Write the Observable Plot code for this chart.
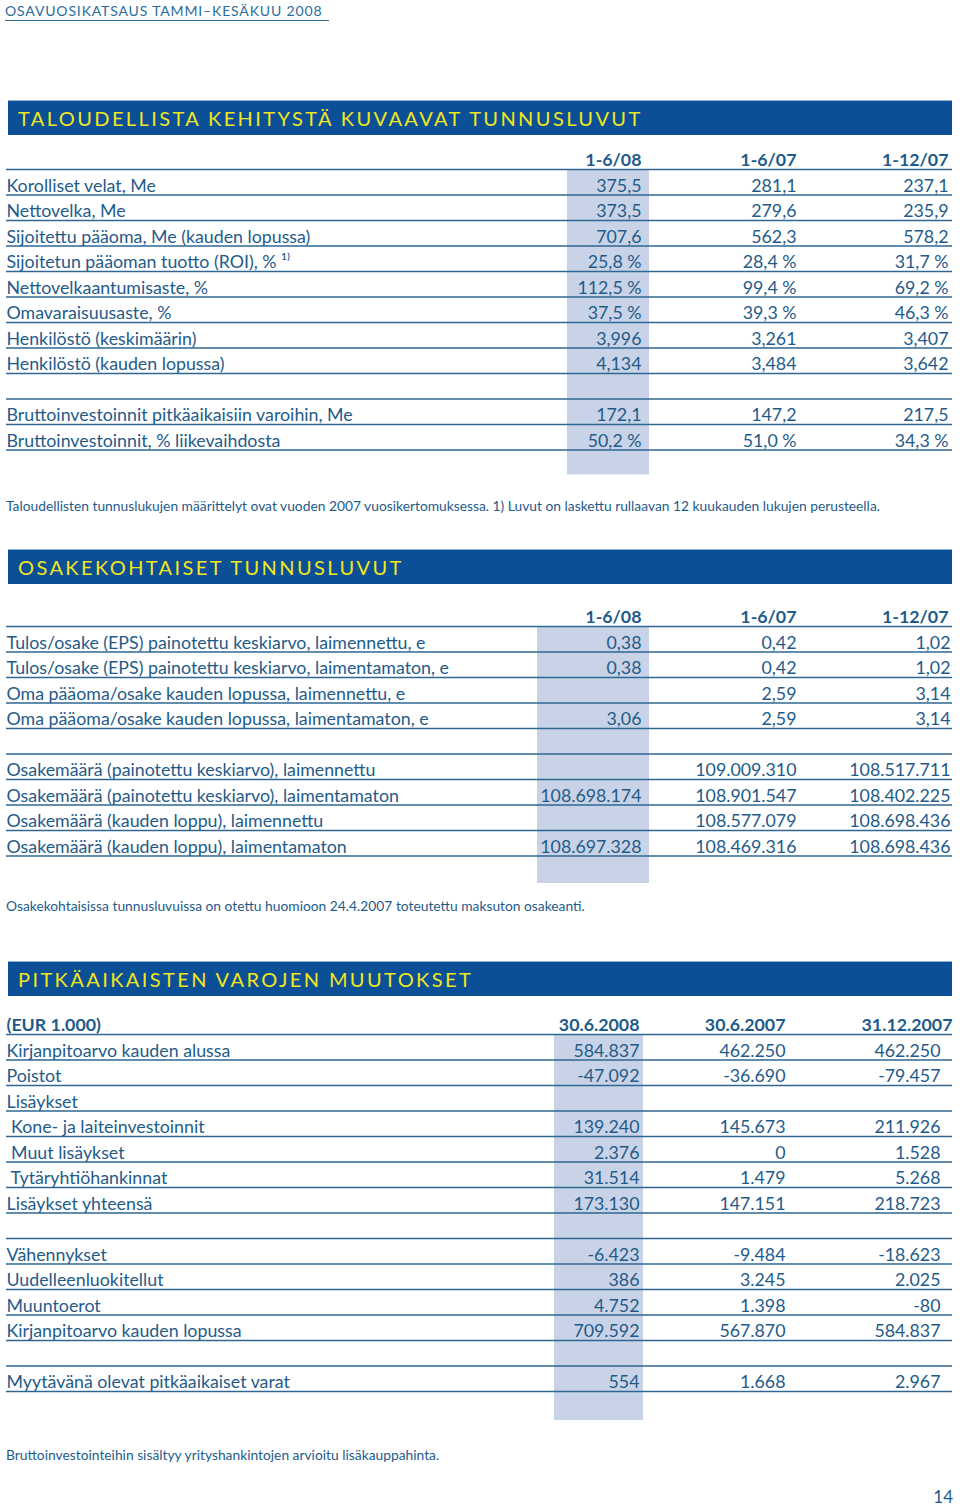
<!DOCTYPE html>
<html>
<head>
<meta charset="utf-8">
<script src="https://cdn.jsdelivr.net/npm/d3@7"></script>
<script src="https://cdn.jsdelivr.net/npm/@observablehq/plot@0.6"></script>
<style>
  body { margin: 0; background: #fff; }
  #page { position: relative; width: 960px; height: 1511px; overflow: hidden; font-family: Lato, "Open Sans", sans-serif; color: #1f5b8a; }
  .abs { position: absolute; }
  .top { left: 5px; top: 2px; font-size: 14px; letter-spacing: 0.85px; color: #2a6c9c; border-bottom: 1px solid #2a6c9c; padding-right: 7px; line-height: 18px; }
  .bar { position: absolute; left: 8px; width: 944px; height: 35px; background: #0b4f97; border-top: 1px solid #8fb3d8; box-sizing: border-box; }
  .bar span { position: absolute; left: 10px; top: 0; line-height: 34px; color: #f2e61c; font-size: 20px; letter-spacing: 2.4px; white-space: nowrap; }
  .note { left: 6px; font-size: 13.8px; color: #1f5b8a; white-space: nowrap; }
  .pg { right: 7px; font-size: 17px; color: #1f5b8a; }
  svg { position: absolute; left: 0; }
</style>
</head>
<body>
<div id="page">
  <div class="abs top">OSAVUOSIKATSAUS TAMMI–KESÄKUU 2008</div>
  <div class="bar" style="top:100px"><span>TALOUDELLISTA KEHITYSTÄ KUVAAVAT TUNNUSLUVUT</span></div>
  <div class="bar" style="top:549px"><span>OSAKEKOHTAISET TUNNUSLUVUT</span></div>
  <div class="bar" style="top:961px"><span>PITKÄAIKAISTEN VAROJEN MUUTOKSET</span></div>
  <div class="abs note" style="top:497px">Taloudellisten tunnuslukujen määrittelyt ovat vuoden 2007 vuosikertomuksessa. 1) Luvut on laskettu rullaavan 12 kuukauden lukujen perusteella.</div>
  <div class="abs note" style="top:897px">Osakekohtaisissa tunnusluvuissa on otettu huomioon 24.4.2007 toteutettu maksuton osakeanti.</div>
  <div class="abs note" style="top:1446px">Bruttoinvestointeihin sisältyy yrityshankintojen arvioitu lisäkauppahinta.</div>
  <div class="abs pg" style="top:1486px">14</div>
</div>
<script>
// ---------- DATA ----------
// Table 1: Taloudellista kehitystä kuvaavat tunnusluvut
const columns1 = ["1-6/08", "1-6/07", "1-12/07"];
const labels1 = [
  "Korolliset velat, Me",
  "Nettovelka, Me",
  "Sijoitettu pääoma, Me (kauden lopussa)",
  "Sijoitetun pääoman tuotto (ROI), % ¹⁾",
  "Nettovelkaantumisaste, %",
  "Omavaraisuusaste, %",
  "Henkilöstö (keskimäärin)",
  "Henkilöstö (kauden lopussa)",
  "",
  "Bruttoinvestoinnit pitkäaikaisiin varoihin, Me",
  "Bruttoinvestoinnit, % liikevaihdosta"
];
const t1_h108 = ["375,5", "373,5", "707,6", "25,8 %", "112,5 %", "37,5 %", "3,996", "4,134", "", "172,1", "50,2 %"];
const t1_h107 = ["281,1", "279,6", "562,3", "28,4 %", "99,4 %", "39,3 %", "3,261", "3,484", "", "147,2", "51,0 %"];
const t1_y07  = ["237,1", "235,9", "578,2", "31,7 %", "69,2 %", "46,3 %", "3,407", "3,642", "", "217,5", "34,3 %"];

// Table 2: Osakekohtaiset tunnusluvut
const columns2 = ["1-6/08", "1-6/07", "1-12/07"];
const labels2 = [
  "Tulos/osake (EPS) painotettu keskiarvo, laimennettu, e",
  "Tulos/osake (EPS) painotettu keskiarvo, laimentamaton, e",
  "Oma pääoma/osake kauden lopussa, laimennettu, e",
  "Oma pääoma/osake kauden lopussa, laimentamaton, e",
  "",
  "Osakemäärä (painotettu keskiarvo), laimennettu",
  "Osakemäärä (painotettu keskiarvo), laimentamaton",
  "Osakemäärä (kauden loppu), laimennettu",
  "Osakemäärä (kauden loppu), laimentamaton"
];
const t2_h108 = ["0,38", "0,38", "", "3,06", "", "", "108.698.174", "", "108.697.328"];
const t2_h107 = ["0,42", "0,42", "2,59", "2,59", "", "109.009.310", "108.901.547", "108.577.079", "108.469.316"];
const t2_y07  = ["1,02", "1,02", "3,14", "3,14", "", "108.517.711", "108.402.225", "108.698.436", "108.698.436"];

// Table 3: Pitkäaikaisten varojen muutokset
const unit3 = "(EUR 1.000)";
const columns3 = ["30.6.2008", "30.6.2007", "31.12.2007"];
const labels3 = [
  "Kirjanpitoarvo kauden alussa",
  "Poistot",
  "Lisäykset",
  "\u00a0Kone- ja laiteinvestoinnit",
  "\u00a0Muut lisäykset",
  "\u00a0Tytäryhtiöhankinnat",
  "Lisäykset yhteensä",
  "",
  "Vähennykset",
  "Uudelleenluokitellut",
  "Muuntoerot",
  "Kirjanpitoarvo kauden lopussa",
  "",
  "Myytävänä olevat pitkäaikaiset varat"
];
const t3_2008 = ["584.837", "-47.092", "", "139.240", "2.376", "31.514", "173.130", "", "-6.423", "386", "4.752", "709.592", "", "554"];
const t3_2007 = ["462.250", "-36.690", "", "145.673", "0", "1.479", "147.151", "", "-9.484", "3.245", "1.398", "567.870", "", "1.668"];
const t3_y07  = ["462.250", "-79.457", "", "211.926", "1.528", "5.268", "218.723", "", "-18.623", "2.025", "-80", "584.837", "", "2.967"];

// ---------- STYLE ----------
const TEXT = "#1f5b8a";
const LINE = "#2f6792";
const HILITE = "#c9d3e7";
const ROW_H = 25.5;
const TOP = 22;      // header-row centre inside each svg
const FONT = "Lato, 'Open Sans', sans-serif";
const FS = 17.8;

function makeTable(cfg) {
  const n = cfg.labels.length;
  const height = TOP + ROW_H * (n + 1) + 20;
  const cells = [];
  cfg.labels.forEach((lab, i) => {
    cfg.values.forEach((vals, j) => {
      if (vals[i]) cells.push({row: i + 1, col: j + 1, text: vals[i]});
    });
  });
  const labelRows = cfg.labels.map((lab, i) => ({row: i + 1, text: lab})).filter(d => d.text);
  const headerCells = cfg.columns.map((c, j) => ({col: j + 1, text: c}));
  const plot = Plot.plot({
    width: 960,
    height,
    marginLeft: 6,
    marginRight: 8,
    marginTop: 0,
    marginBottom: 0,
    style: {background: "transparent", fontFamily: FONT, fontSize: FS + "px", color: TEXT, overflow: "visible"},
    x: {type: "linear", domain: [0, 1, 2, 3], range: cfg.xRange, axis: null},
    y: {type: "linear", domain: [0, 1], range: [TOP, TOP + ROW_H], axis: null},
    marks: [
      Plot.rect([cfg.highlight], {
        x1: d => d.col, x2: d => d.col, y1: 0, y2: n + 1,
        insetLeft: -cfg.hiLeft, insetRight: -cfg.hiRight,
        insetTop: 10, insetBottom: -cfg.hiBottom,
        fill: HILITE
      }),
      Plot.ruleY(d3.range(0, n + 1), {y: d => d, dy: 9, stroke: LINE, strokeWidth: 1.5}),
      Plot.text(labelRows, {x: 0, y: "row", text: "text", textAnchor: "start", lineAnchor: "middle", fill: TEXT, fontSize: FS}),
      Plot.text(cells, {x: "col", y: "row", text: "text", textAnchor: "end", lineAnchor: "middle", fill: TEXT, fontSize: FS}),
      ...headerCells.map((h, j) => Plot.text([h], {
        x: "col", y: 0, text: "text", textAnchor: "end", lineAnchor: "middle",
        fill: TEXT, fontSize: FS, fontWeight: "bold", dx: cfg.headerDx[j]
      })),
      cfg.unit ? Plot.text([cfg.unit], {x: 0, y: 0, text: d => d, textAnchor: "start", lineAnchor: "middle", fill: TEXT, fontSize: FS, fontWeight: "bold"}) : null
    ]
  });
  plot.style.top = (cfg.headerY - TOP) + "px";
  document.getElementById("page").appendChild(plot);
}

makeTable({
  columns: columns1, labels: labels1, values: [t1_h108, t1_h107, t1_y07],
  xRange: [6, 641, 796, 948], headerDx: [0, 0, 0],
  highlight: {col: 1}, hiLeft: 74, hiRight: 8, hiBottom: 8.5,
  headerY: 159.5
});
makeTable({
  columns: columns2, labels: labels2, values: [t2_h108, t2_h107, t2_y07],
  xRange: [6, 641, 796, 950], headerDx: [0, 0, -2],
  highlight: {col: 1}, hiLeft: 104, hiRight: 8, hiBottom: 11,
  headerY: 617
});
makeTable({
  columns: columns3, labels: labels3, values: [t3_2008, t3_2007, t3_y07],
  unit: unit3,
  xRange: [6, 639, 785, 940], headerDx: [0, 0, 12],
  highlight: {col: 1}, hiLeft: 85, hiRight: 4, hiBottom: 12.5,
  headerY: 1025
});
</script>
</body>
</html>
